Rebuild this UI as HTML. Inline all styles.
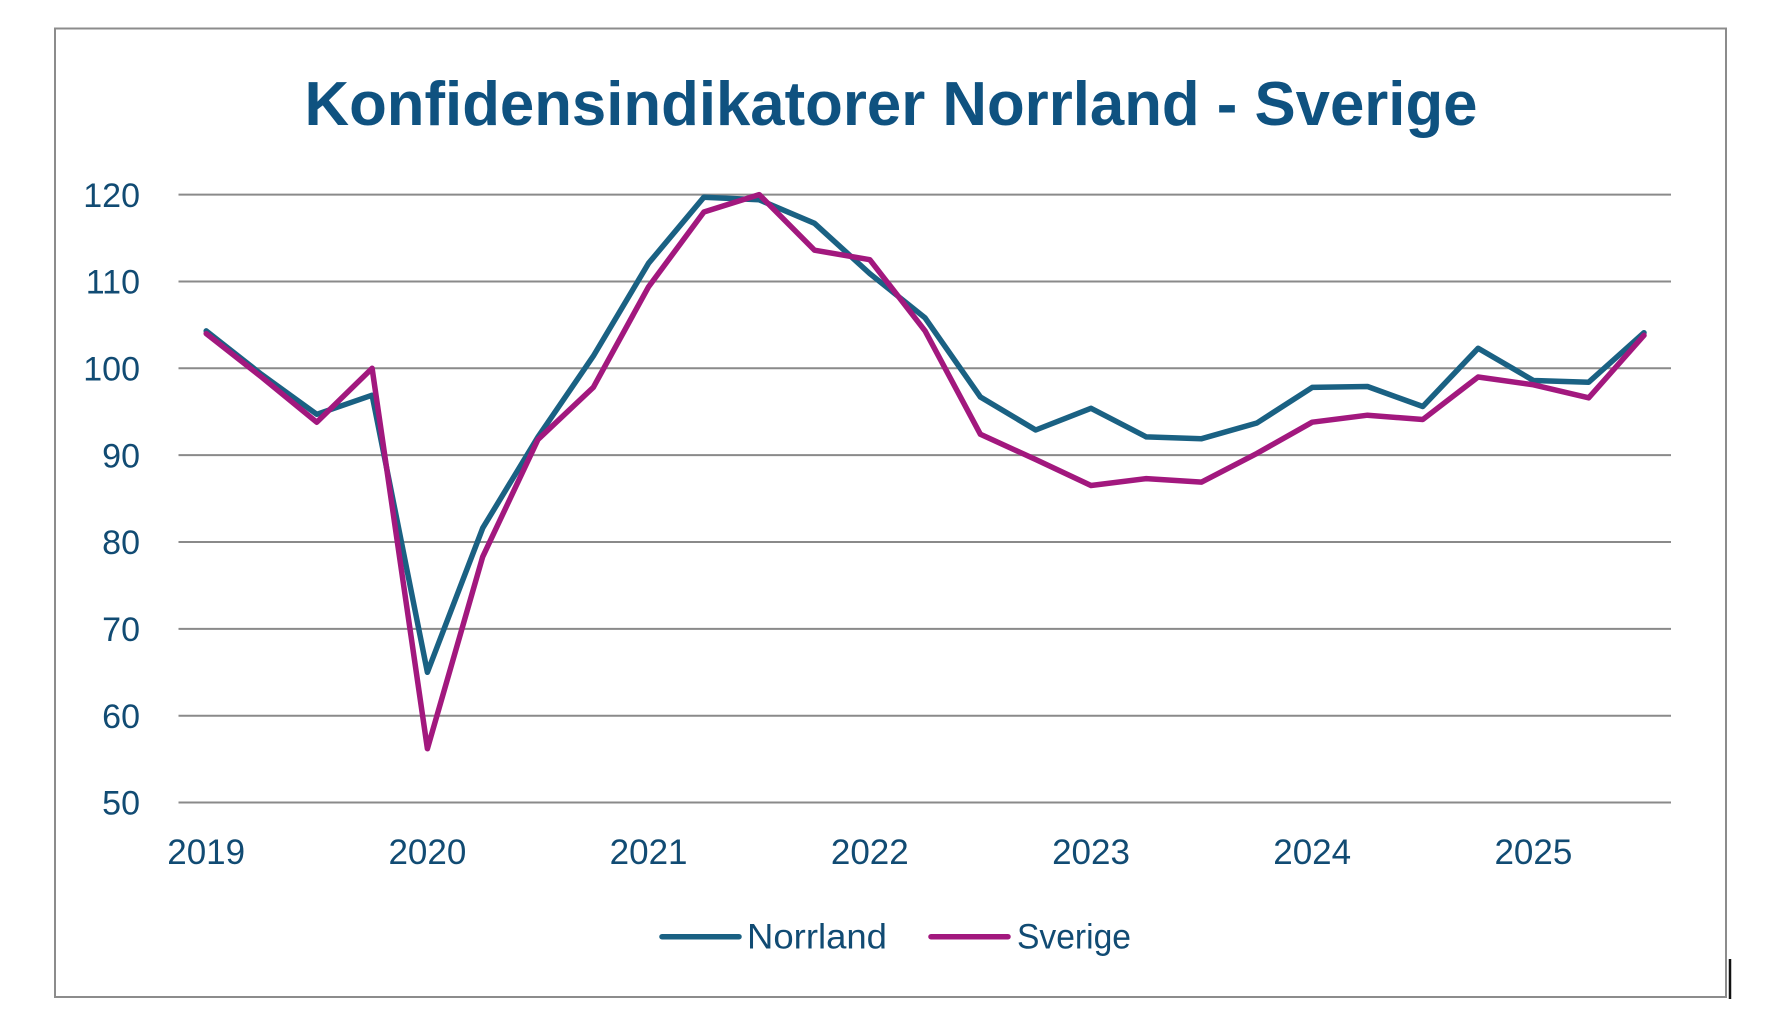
<!DOCTYPE html>
<html>
<head>
<meta charset="utf-8">
<style>
  html, body { margin: 0; padding: 0; background: #ffffff; }
  body { width: 1782px; height: 1036px; overflow: hidden; }
  svg { display: block; }
  text { font-family: "Liberation Sans", Arial, sans-serif; }
</style>
</head>
<body>
<svg width="1782" height="1036" viewBox="0 0 1782 1036" xmlns="http://www.w3.org/2000/svg">
  <rect x="0" y="0" width="1782" height="1036" fill="#ffffff"/>
  <!-- chart border -->
  <rect x="55" y="28.5" width="1671" height="968.5" fill="none" stroke="#8c8c8c" stroke-width="2"/>
  <!-- cursor mark -->
  <line x1="1730" y1="959" x2="1730" y2="999" stroke="#111111" stroke-width="2.5"/>

  <!-- title -->
  <text x="891" y="125" text-anchor="middle" font-size="62" font-weight="bold" fill="#0f5280" textLength="1173" lengthAdjust="spacingAndGlyphs">Konfidensindikatorer Norrland - Sverige</text>

  <!-- gridlines -->
  <g stroke="#8a8a8a" stroke-width="2">
    <line x1="178.5" y1="194.6" x2="1671" y2="194.6"/>
    <line x1="178.5" y1="281.45" x2="1671" y2="281.45"/>
    <line x1="178.5" y1="368.3" x2="1671" y2="368.3"/>
    <line x1="178.5" y1="455.15" x2="1671" y2="455.15"/>
    <line x1="178.5" y1="542" x2="1671" y2="542"/>
    <line x1="178.5" y1="628.85" x2="1671" y2="628.85"/>
    <line x1="178.5" y1="715.7" x2="1671" y2="715.7"/>
    <line x1="178.5" y1="802.55" x2="1671" y2="802.55"/>
  </g>

  <!-- y labels -->
  <g font-size="34" fill="#114b73" text-anchor="end">
    <text x="140" y="206.8">120</text>
    <text x="140" y="293.6">110</text>
    <text x="140" y="380.5">100</text>
    <text x="140" y="467.3">90</text>
    <text x="140" y="554.2">80</text>
    <text x="140" y="641">70</text>
    <text x="140" y="727.9">60</text>
    <text x="140" y="814.7">50</text>
  </g>

  <!-- x labels -->
  <g font-size="35" fill="#114b73" text-anchor="middle">
    <text x="206.2" y="864">2019</text>
    <text x="427.4" y="864">2020</text>
    <text x="648.6" y="864">2021</text>
    <text x="869.8" y="864">2022</text>
    <text x="1091" y="864">2023</text>
    <text x="1312.2" y="864">2024</text>
    <text x="1533.4" y="864">2025</text>
  </g>

  <!-- Norrland -->
  <polyline fill="none" stroke="#1a6183" stroke-width="5.5" stroke-linejoin="round" stroke-linecap="round"
    points="206.2,330.9 261.5,374.4 316.8,414.3 372.1,395.2 427.4,672.3 482.7,528.1 538,436.9 593.3,356.1 648.6,263.2 703.9,197.2 759.2,199.8 814.5,223.3 869.8,273.6 925.1,317.9 980.4,397 1035.7,430 1091,408.3 1146.3,436.9 1201.6,438.7 1256.9,423 1312.2,387.4 1367.5,386.5 1422.8,406.5 1478.1,348.3 1533.4,380.5 1588.7,382.2 1644,332.7"/>

  <!-- Sverige -->
  <polyline fill="none" stroke="#a2187e" stroke-width="5.5" stroke-linejoin="round" stroke-linecap="round"
    points="206.2,333.6 261.5,377 316.8,422.2 372.1,368.3 427.4,748.7 482.7,556.8 538,439.5 593.3,387.4 648.6,286.7 703.9,212 759.2,194.6 814.5,250.2 869.8,259.7 925.1,330.9 980.4,434.3 1035.7,459.5 1091,485.5 1146.3,478.6 1201.6,482.1 1256.9,453.4 1312.2,422.2 1367.5,415.2 1422.8,419.5 1478.1,377 1533.4,384.8 1588.7,397.8 1644,335.3"/>

  <!-- legend -->
  <line x1="662" y1="936.7" x2="739" y2="936.7" stroke="#1a6183" stroke-width="5.5" stroke-linecap="round"/>
  <text x="747" y="948.3" font-size="35" fill="#114b73" textLength="140" lengthAdjust="spacingAndGlyphs">Norrland</text>
  <line x1="931" y1="936.7" x2="1008" y2="936.7" stroke="#a2187e" stroke-width="5.5" stroke-linecap="round"/>
  <text x="1017" y="948.3" font-size="35" fill="#114b73" textLength="114" lengthAdjust="spacingAndGlyphs">Sverige</text>
</svg>
</body>
</html>
